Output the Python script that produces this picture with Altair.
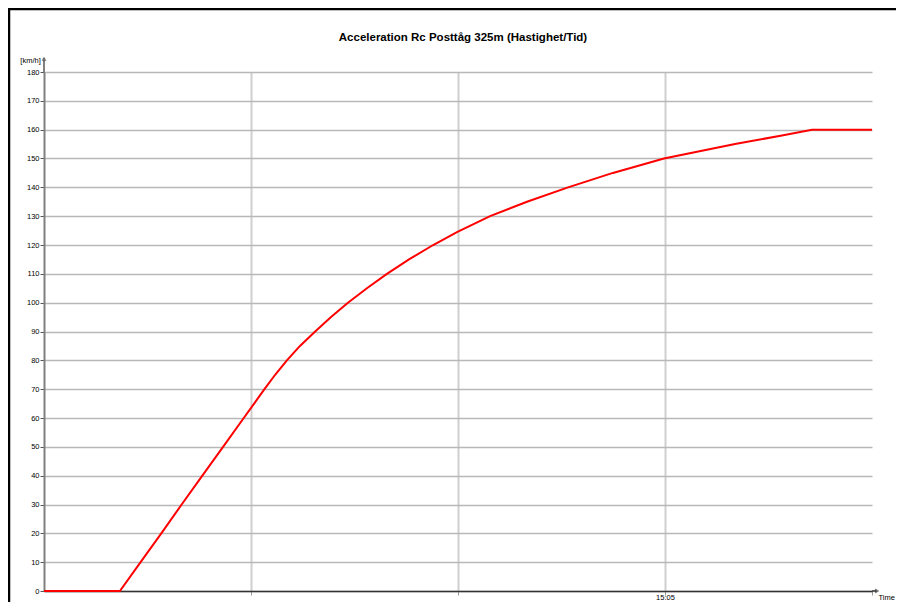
import altair as alt
import pandas as pd

title_text = "Acceleration Rc Posttåg 325m (Hastighet/Tid)"

# time in seconds from start of the window, speed in km/h
time_s = [0, 22.0, 28.0, 34.0, 39.9, 45.9, 51.9, 57.9, 63.9, 67.0, 70.4, 74.2,
          78.6, 83.2, 88.1, 93.6, 99.4, 105.8, 112.8, 119.7, 129.3, 140.0,
          151.9, 164.9, 179.7, 200.3, 213.9, 222.6, 240]
speed_kmh = [0, 0, 10, 20, 30, 40, 50, 60, 70, 75, 80, 85,
             90, 95, 100, 105, 110, 115, 120, 124.5, 130, 135,
             140, 145, 150, 155, 158, 160, 160]

x_tick_values = [60, 120, 180, 240]
x_label_value = 180
x_label_text = "15:05"
y_tick_values = list(range(0, 181, 10))
y_title = "[km/h]"
x_title = "Time"

W, H = 828, 519
PAD = {"left": 36, "top": 64, "right": 24, "bottom": 11}
FONT = "Liberation Sans"

df = pd.DataFrame({"t": time_s, "v": speed_kmh})

line = alt.Chart(df).mark_line(color="#ff0000", strokeWidth=2).encode(
    x=alt.X(
        "t:Q",
        scale=alt.Scale(domain=[0, 240], nice=False, zero=False),
        axis=alt.Axis(
            values=x_tick_values,
            grid=True,
            gridColor="#cfcfcf",
            gridWidth=2,
            gridOpacity={"condition": {"test": "datum.value >= 240", "value": 0}, "value": 1},
            labelExpr=f"datum.value == {x_label_value} ? '{x_label_text}' : ''",
            labelFont=FONT,
            labelFontSize=7.5,
            labelColor="#000000",
            labelBaseline="top",
            labelPadding=-2,
            tickSize=4,
            tickColor="#999999",
            domainColor="#333333",
            domainWidth=1.5,
            title=x_title,
            titleFont=FONT,
            titleFontSize=7.5,
            titleFontWeight="normal",
            titleColor="#000000",
            titleX=834,
            titleY=2,
            titleAlign="left",
            titleBaseline="top",
        ),
    ),
    y=alt.Y(
        "v:Q",
        scale=alt.Scale(domain=[0, 180], nice=False),
        axis=alt.Axis(
            values=y_tick_values,
            grid=True,
            gridColor="#b8b8b8",
            gridWidth=1.5,
            labelFont=FONT,
            labelFontSize=7.5,
            labelColor="#000000",
            labelPadding=1,
            tickSize=4,
            tickColor="#555555",
            domainColor="#808080",
            domainWidth=2,
            title=y_title,
            titleFont=FONT,
            titleFontSize=7.5,
            titleFontWeight="normal",
            titleColor="#000000",
            titleAngle=0,
            titleX=-14,
            titleY=-12,
            titleAlign="center",
            titleBaseline="middle",
        ),
    ),
)

one = alt.Data(values=[{}])

# chart title drawn as text above the plot
title = alt.Chart(one).mark_text(
    text=title_text, font=FONT, fontSize=11.5, fontWeight="bold", color="#000000",
    align="center", baseline="bottom"
).encode(x=alt.value(W / 2 + 5), y=alt.value(-29))

# frame (left and top edges)
frame_left = alt.Chart(one).mark_rule(color="#000000", strokeWidth=2.5).encode(
    x=alt.value(-35), y=alt.value(-64), y2=alt.value(H + PAD["bottom"])
)
frame_top = alt.Chart(one).mark_rule(color="#000000", strokeWidth=2.5).encode(
    x=alt.value(-36), x2=alt.value(W + PAD["right"]), y=alt.value(-63)
)

# axis extensions with arrow heads
y_ext = alt.Chart(one).mark_rule(color="#808080", strokeWidth=2).encode(
    x=alt.value(0), y=alt.value(-14), y2=alt.value(0)
)
y_arrow = alt.Chart(one).mark_point(shape="triangle-up", filled=False, color="#555555",
                                    size=14, strokeWidth=1).encode(
    x=alt.value(0), y=alt.value(-13)
)
x_ext = alt.Chart(one).mark_rule(color="#333333", strokeWidth=1.5).encode(
    x=alt.value(W), x2=alt.value(W + 5), y=alt.value(H)
)
x_arrow = alt.Chart(one).mark_point(shape="triangle-right", filled=False, color="#333333",
                                    size=14, strokeWidth=1).encode(
    x=alt.value(W + 5), y=alt.value(H)
)

chart = alt.layer(
    frame_left, frame_top, y_ext, x_ext, line, y_arrow, x_arrow, title
).properties(
    width=W,
    height=H,
    padding=PAD,
    autosize=alt.AutoSizeParams(type="none"),
    background="#ffffff",
).configure_view(stroke=None)

chart.save("out.html", embed_options={"renderer": "svg", "actions": False})
